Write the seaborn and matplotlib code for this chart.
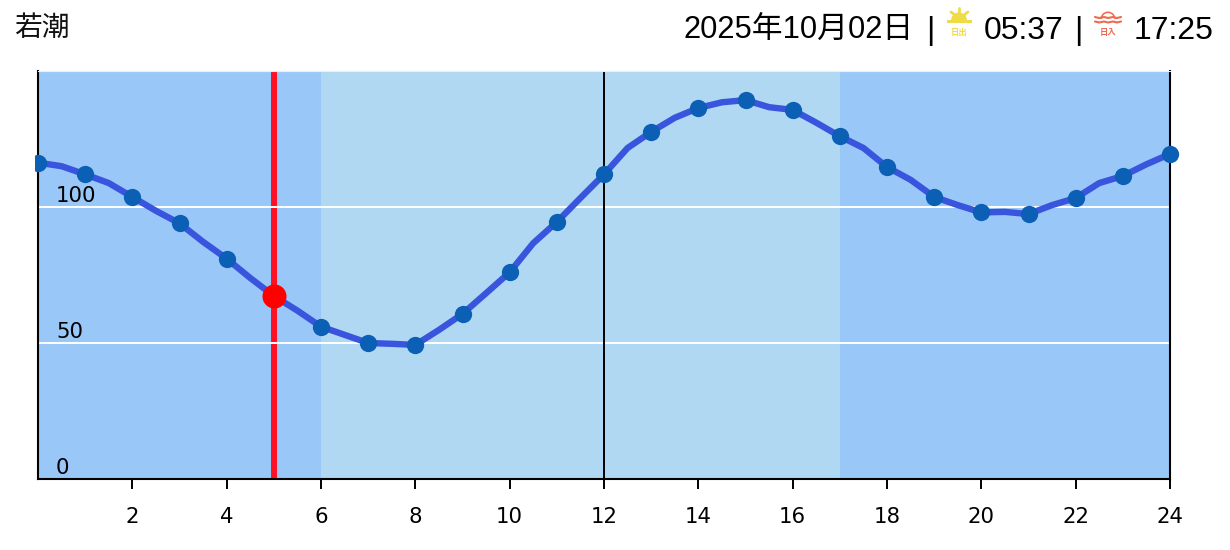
import matplotlib
matplotlib.use("Agg")
import matplotlib.pyplot as plt
from matplotlib.patches import Wedge, Rectangle
import numpy as np
import pandas as pd
import seaborn as sns

# hourly tide values (cm) and the half-hour values between them
hours = [0, 1, 2, 3, 4, 5, 6, 7, 8, 9, 10, 11, 12, 13, 14, 15, 16, 17, 18, 19, 20, 21, 22, 23, 24]
tide = [116.3, 112, 103.7, 94, 81, 67.3, 56, 50, 49.3, 60.7, 76, 94.5, 112, 127.6,
        136.4, 139.3, 135.7, 126, 114.7, 103.7, 98, 97.4, 103.3, 111.4, 119.5]
half_hours = [0.5, 1.5, 2.5, 3.5, 4.5, 5.5, 6.5, 7.5, 8.5, 9.5, 10.5, 11.5, 12.5, 13.5,
              14.5, 15.5, 16.5, 17.5, 18.5, 19.5, 20.5, 21.5, 22.5, 23.5]
half_tide = [115, 108.8, 98.6, 87.2, 73.9, 61.9, 53, 49.7, 54.8, 68.3, 86.7, 103.3, 121.7,
             132.8, 138.5, 136.7, 131, 121.7, 110, 100.7, 98.2, 100.7, 108.8, 115.7]

x_ticks = [2, 4, 6, 8, 10, 12, 14, 16, 18, 20, 22, 24]
y_labels = [0, 50, 100]
grid_levels = [50, 100]
day_start, day_end = 6, 17
now_hour, now_tide = 5, 67.3

title = "若潮"
date_text = "2025年10月02日"
sunrise = "05:37"
sunset = "17:25"

DARK = "#99C8F8"
LIGHT = "#B0D8F2"
W, H = 1230, 550
L, R, T, B = 38, 1170, 71, 479

sns.set_theme(style="white")
plt.rcParams["font.family"] = ["DejaVu Sans", "Noto Sans CJK JP"]

fig = plt.figure(figsize=(W / 100, H / 100), dpi=100, facecolor="white")
ax = fig.add_axes([L / W, 1 - B / H, (R - L) / W, (B - T) / H])

hourly = pd.DataFrame({"hour": hours, "tide": tide})
curve = pd.concat([hourly, pd.DataFrame({"hour": half_hours, "tide": half_tide})]).sort_values("hour")

# background bands
ax.set_facecolor(DARK)
ax.axvspan(hours[0], day_start, color=DARK, lw=0, zorder=0)
ax.axvspan(day_start, day_end, color=LIGHT, lw=0, zorder=0)
ax.axvspan(day_end, hours[-1], color=DARK, lw=0, zorder=0)

# current time line sits under the white grid
ax.axvline(now_hour, color="#FF1024", lw=4.3, zorder=0.2)
ax.set_yticks(grid_levels)
ax.set_axisbelow(True)
ax.grid(axis="y", color="white", lw=1.4, zorder=0.5)
ax.axvline(12, color="black", lw=1.4, zorder=1)

sns.lineplot(data=curve, x="hour", y="tide", color="#3A55DD", lw=4.6, errorbar=None, ax=ax, zorder=3)
sns.scatterplot(data=hourly, x="hour", y="tide", color="#0B5FB5", s=155, linewidth=0, ax=ax, zorder=4, clip_on=False)
sns.scatterplot(x=[now_hour], y=[now_tide], color="#FF0000", s=300, linewidth=0, ax=ax, zorder=5, clip_on=False)

ax.set_xlim(0, 24)
ax.set_ylim(0, 150)
ax.set_xlabel("")
ax.set_ylabel("")
ax.set_xticks(x_ticks)
ax.tick_params(axis="x", length=7.5, width=1.4, color="black", labelcolor="black", pad=13, labelsize=15.3, bottom=True)
ax.tick_params(axis="y", left=False, labelleft=False)

for v in y_labels:
    ax.annotate(str(v), (0, v), xytext=(18 * 0.72, 1), textcoords="offset points",
                fontsize=15.3, color="black", ha="left", va="bottom", zorder=6)

for side in ["left", "right", "bottom"]:
    ax.spines[side].set_color("black")
    ax.spines[side].set_linewidth(1.5)
ax.spines["top"].set_color("#E8EEF2")
ax.spines["top"].set_linewidth(0.8)

# header strip and icons, drawn in pixel coordinates
top = fig.add_axes([0, 0, 1, 1], facecolor="none")
top.set_xlim(0, W)
top.set_ylim(H, 0)
top.axis("off")
top.add_patch(Rectangle((28, 150), 7, 26, color="white", lw=0))

head = ["Liberation Sans", "Noto Sans CJK JP"]
top.text(14, 28, title, fontsize=20, family=["Noto Sans CJK JP"], va="center", color="#111111")
top.text(914, 31, date_text, fontsize=22.2, family=head, va="center", ha="right", color="black")
top.text(930, 31, "|", fontsize=23, family=head, va="center", ha="center", color="black")
top.text(984, 31, sunrise, fontsize=23, family=head, va="center", color="black")
top.text(1078, 31, "|", fontsize=23, family=head, va="center", ha="center", color="black")
top.text(1134, 31, sunset, fontsize=23, family=head, va="center", color="black")

# sunrise icon
sun = "#EFDB45"
top.add_patch(Wedge((959, 20.5), 8, 180, 360, color=sun, lw=0))
top.add_patch(Rectangle((947, 20), 25, 2.6, color=sun, lw=0))
top.plot([959, 959], [8, 12], color=sun, lw=2)
top.plot([951, 955], [12, 15], color=sun, lw=2)
top.plot([968, 964], [12, 15], color=sun, lw=2)
top.text(959, 33, "日出", fontsize=6, family=["Noto Sans CJK JP"], ha="center", va="center", color=sun, weight="bold")

# sunset icon
red = "#EE6A50"
top.add_patch(Wedge((1108, 19), 7.5, 180, 360, width=1.6, color=red, lw=0))
for wave_y in [17, 21.5]:
    wx = np.array([1095, 1099, 1104, 1108, 1113, 1117, 1121])
    wy = wave_y + np.array([0, 1, 0, 1, 0, 1, 0])
    top.plot(wx, wy, color=red, lw=1.5)
top.text(1108, 32, "日入", fontsize=6, family=["Noto Sans CJK JP"], ha="center", va="center", color=red, weight="bold")

fig.savefig("out.png", dpi=100)
